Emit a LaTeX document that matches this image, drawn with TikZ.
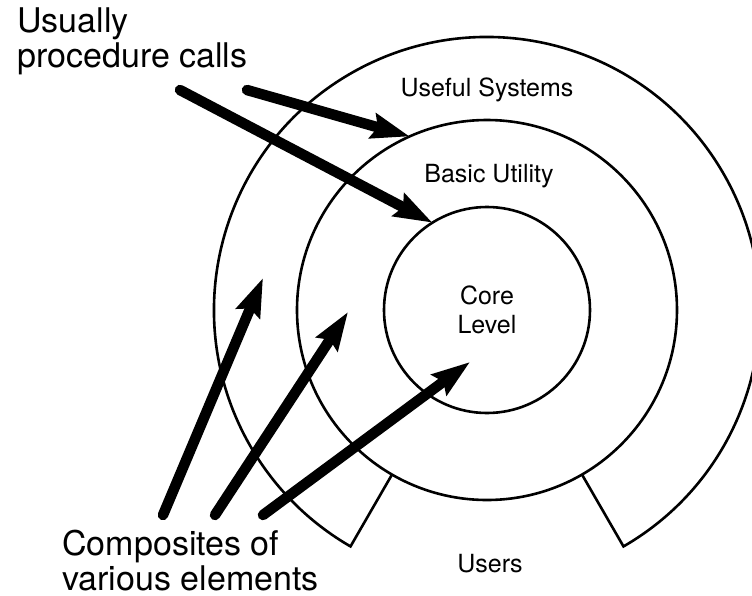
\documentclass[tikz,border=0pt]{standalone}
\usepackage{fontspec}
\setmainfont{TeX Gyre Heros}
\usetikzlibrary{arrows.meta, calc}

\tikzset{
  ring/.style={draw, circle, line width=1.3pt, inner sep=0pt, outer sep=0pt},
  small/.style={font=\fontsize{12.5pt}{14.5pt}\selectfont, align=center, inner sep=0pt},
  big/.style={font=\fontsize{17pt}{15pt}\selectfont, align=left, inner sep=0pt},
  call/.style={line width=5.25pt, line cap=round, -{Stealth[length=19pt, width=12.5pt, inset=2.5pt]}}
}

\begin{document}
\begin{tikzpicture}[x=0.5pt, y=-0.5pt]
\useasboundingbox (0,0) rectangle (752,596);

% Rings
\coordinate (O) at (487,310);
\node (core) [ring, small, minimum size=103pt] at (O) {Core\\Level};
\node (basic) [ring, minimum size=190pt] at (O) {};
\draw[line width=1.3pt] (basic.300) -- ($(O)+(300:136.5pt)$)
  arc[start angle=-60, end angle=240, radius=136.5pt] -- (basic.240);

% Ring labels
\node (useful) [small] at (487,90) {Useful Systems};
\node (utility) [small] at (489,176) {Basic Utility};
\node (users) [small] at (490,564) {Users};

% Side labels (base = last line)
\node (calls) [big, anchor=base west] at (17,67) {Usually\\procedure calls};
\node (composites) [big, anchor=base west] at (62,590) {Composites of\\various elements};

% Arrow tails and free tips
\coordinate (t1) at (247,90);
\coordinate (t2) at (180,90);
\coordinate (c1) at (163,515);
\coordinate (c2) at (215,515);
\coordinate (c3) at (263,515);
\coordinate (h1) at (263,278);
\coordinate (h2) at (348,312);
\coordinate (h3) at (470,362);

% Arrows
\draw[call] (t1) -- (basic.114);
\draw[call] (t2) -- (core.122);
\draw[call] (c1) -- (h1);
\draw[call] (c2) -- (h2);
\draw[call] (c3) -- (h3);
\end{tikzpicture}
\end{document}
